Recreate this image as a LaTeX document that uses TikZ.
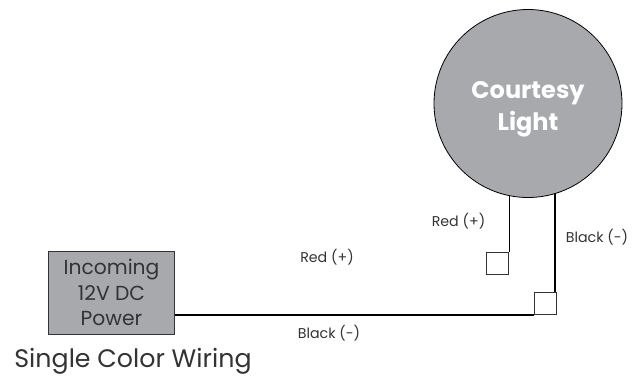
\documentclass[tikz,border=0pt]{standalone}
\usepackage{fontspec}
\setmainfont{Poppins}
\usetikzlibrary{positioning}
\definecolor{boxgray}{HTML}{A7A9AC}
\definecolor{inkgray}{HTML}{333333}
\tikzset{
    wire/.style={line width=1pt, color=black},
    thickwire/.style={line width=2.4pt, color=black},
    termbox/.style={draw=inkgray, line width=0.9pt, minimum size=22pt, inner sep=0pt},
    wirelabel/.style={font=\fontsize{14.2}{16}\selectfont, text=inkgray, inner sep=0pt}
}
\begin{document}
\begin{tikzpicture}[x=1pt,y=-1pt]
    \useasboundingbox (0,0) rectangle (642,376);

    \node[circle, draw=black, line width=0.8pt, fill=boxgray, minimum size=188pt, inner sep=0pt] (Light) at (528,103.5) {};
    \node[text=white, align=center, inner sep=0pt, font=\fontsize{24}{32}\selectfont\bfseries] (LightName) at (528,109.5) {Courtesy\\Light};

    \node[draw=inkgray, line width=0.9pt, fill=boxgray, minimum width=126pt, minimum height=83pt, inner sep=0pt, text=inkgray, align=center,
        font=\fontsize{20.3}{25.5}\selectfont] (Power) at (111.5,292.5) {Incoming\\12V DC\\Power};

    \node[termbox] (RedTerm) at (497.7,263.5) {};
    \node[termbox] (BlackTerm) at (545,303.5) {};

    \draw[wire] (RedTerm.north east |- Light.258) -- (RedTerm.north east);
    \draw[thickwire] (BlackTerm.north east |- Light.-73.6) ++(-1.5,0) -- ([xshift=-1.5pt]BlackTerm.north east);
    \draw[thickwire] (Power.east |- BlackTerm.south west) -- (BlackTerm.south west);

    \node[wirelabel] (RedLight) at (458.5,221) {Red (+)};
    \node[wirelabel] (BlackLight) at (597,237) {Black (-)};
    \node[wirelabel] (RedPower) at (327,257) {Red (+)};
    \node[wirelabel] (BlackPower) at (329,333) {Black (-)};

    \node[inner sep=0pt, text=inkgray, font=\fontsize{25.3}{30}\selectfont] (Title) at (133,361) {Single Color Wiring};
\end{tikzpicture}
\end{document}
